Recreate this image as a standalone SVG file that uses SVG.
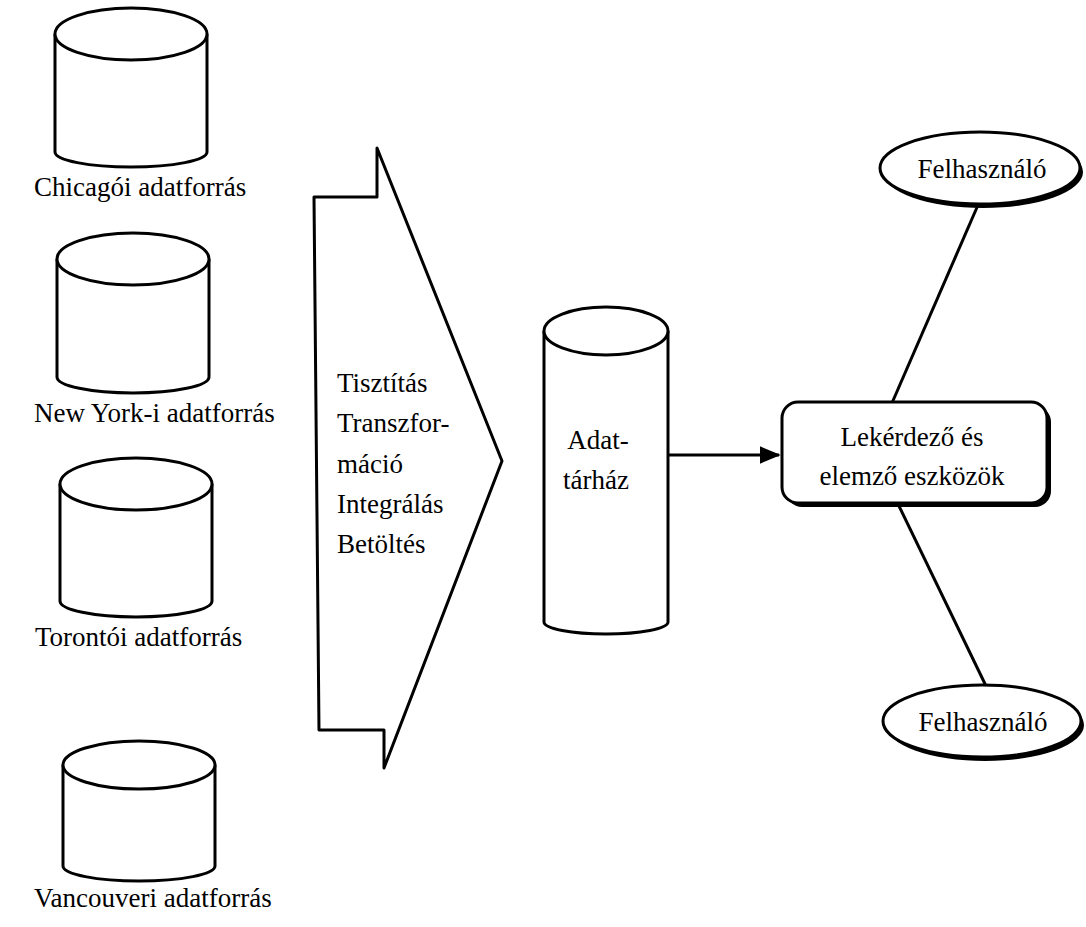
<svg xmlns="http://www.w3.org/2000/svg" width="1086" height="927" viewBox="0 0 1086 927">
  <style>
    .shape { fill: #ffffff; stroke: #000000; stroke-width: 3; stroke-linejoin: round; }
    .shadow { fill: #000000; stroke: none; }
    .link { fill: none; stroke: #000000; stroke-width: 3; }
    .lbl { font-family: "Liberation Serif", "Times New Roman", serif; font-size: 27px; fill: #000000; }
    .mid { text-anchor: middle; }
  </style>
  <defs>
    <marker id="arrowhead" viewBox="0 0 12 10" refX="11" refY="5" markerWidth="7" markerHeight="6" markerUnits="strokeWidth" orient="auto">
      <path d="M0,0 L12,5 L0,10 Z" fill="#000000"/>
    </marker>
  </defs>
  <rect width="1086" height="927" fill="#ffffff"/>

  <!-- data sources -->
  <g id="src-chicago">
    <path class="shape" d="M55,34 V152 A76,15 0 0 0 207,152 V34"/>
    <ellipse class="shape" cx="131" cy="34" rx="76" ry="26"/>
    <text class="lbl" x="34" y="196">Chicagói adatforrás</text>
  </g>
  <g id="src-newyork">
    <path class="shape" d="M57,259 V377 A76,16 0 0 0 209,377 V259"/>
    <ellipse class="shape" cx="133" cy="259" rx="76" ry="26"/>
    <text class="lbl" x="34" y="422">New York-i adatforrás</text>
  </g>
  <g id="src-toronto">
    <path class="shape" d="M60,484 V601 A76,16 0 0 0 212,601 V484"/>
    <ellipse class="shape" cx="136" cy="484" rx="76" ry="26"/>
    <text class="lbl" x="35" y="646">Torontói adatforrás</text>
  </g>
  <g id="src-vancouver">
    <path class="shape" d="M63,765 V866 A76,15 0 0 0 215,866 V765"/>
    <ellipse class="shape" cx="139" cy="765" rx="76" ry="24"/>
    <text class="lbl" x="34" y="907">Vancouveri adatforrás</text>
  </g>

  <!-- ETL block arrow -->
  <g id="etl">
    <polygon class="shape" points="314,197 377,197 377,148 502,461 384,768 384,730 319,730"/>
    <text class="lbl" x="337" y="392">Tisztítás</text>
    <text class="lbl" x="337" y="432">Transzfor-</text>
    <text class="lbl" x="337" y="473">máció</text>
    <text class="lbl" x="337" y="513">Integrálás</text>
    <text class="lbl" x="337" y="553">Betöltés</text>
  </g>

  <!-- data warehouse -->
  <g id="warehouse">
    <path class="shape" d="M544,331 V622 A62,12 0 0 0 668,622 V331"/>
    <ellipse class="shape" cx="606" cy="331" rx="62" ry="24"/>
    <text class="lbl mid" x="598" y="449">Adat-</text>
    <text class="lbl mid" x="596" y="489">tárház</text>
  </g>

  <!-- connectors -->
  <g id="connectors">
    <line class="link" x1="668" y1="455" x2="779" y2="455" marker-end="url(#arrowhead)"/>
    <line class="link" x1="978" y1="205" x2="892" y2="403"/>
    <line class="link" x1="899" y1="506" x2="987" y2="688"/>
  </g>

  <!-- query and analysis tools -->
  <g id="tools">
    <rect class="shadow" x="786" y="406" width="265" height="101" rx="16"/>
    <rect class="shape" x="782" y="402" width="265" height="101" rx="16"/>
    <text class="lbl mid" x="912" y="446">Lekérdező és</text>
    <text class="lbl mid" x="912" y="485">elemző eszközök</text>
  </g>

  <!-- users -->
  <g id="user-top">
    <ellipse class="shadow" cx="983" cy="172" rx="100" ry="36"/>
    <ellipse class="shape" cx="980" cy="168" rx="100" ry="36"/>
    <text class="lbl mid" x="982" y="178">Felhasználó</text>
  </g>
  <g id="user-bottom">
    <ellipse class="shadow" cx="985" cy="725" rx="99" ry="36"/>
    <ellipse class="shape" cx="982" cy="721" rx="99" ry="36"/>
    <text class="lbl mid" x="983" y="731">Felhasználó</text>
  </g>
</svg>
